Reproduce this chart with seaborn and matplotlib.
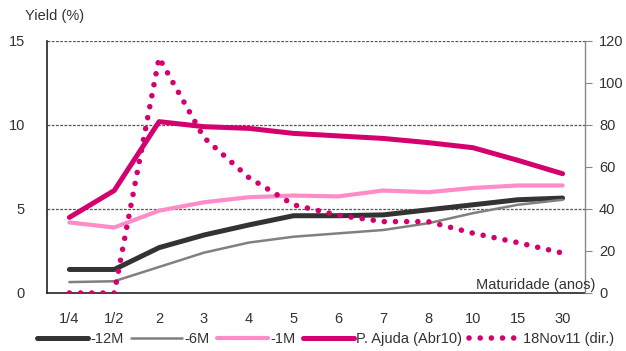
import matplotlib
matplotlib.use("Agg")
import matplotlib.pyplot as plt
import seaborn as sns
import pandas as pd
from matplotlib.lines import Line2D

# Maturities (years)
maturities = ["1/4", "1/2", "2", "3", "4", "5", "6", "7", "8", "10", "15", "30"]

# Yield curves (%), left axis
y_12m = [1.4, 1.4, 2.7, 3.45, 4.05, 4.6, 4.6, 4.65, 4.95, 5.25, 5.55, 5.65]
y_6m = [0.65, 0.7, 1.55, 2.4, 3.0, 3.35, 3.55, 3.75, 4.15, 4.75, 5.25, 5.55]
y_1m = [4.2, 3.9, 4.9, 5.4, 5.7, 5.8, 5.75, 6.1, 6.0, 6.25, 6.4, 6.4]
y_ajuda = [4.5, 6.1, 10.2, 9.9, 9.8, 9.5, 9.35, 9.2, 8.95, 8.65, 7.9, 7.1]

# 18 Nov 2011 curve (%), right axis
y_nov11 = [0, 0, 112, 74, 55, 42, 37, 34, 34, 28.5, 24, 19]

left_ticks = [0, 5, 10, 15]
right_ticks = [0, 20, 40, 60, 80, 100, 120]

MAGENTA = "#D4006E"
PINK = "#FF8CC8"
DARK = "#333333"
GREY = "#808080"
TXT = "#333333"
DOTS = (0.01, 2.0)
FS = 10.5

sns.set_theme(style="white")
plt.rcParams["font.family"] = ["Liberation Sans", "DejaVu Sans"]
plt.rcParams["font.size"] = FS

df = pd.DataFrame({
    "Maturidade": maturities,
    "-12M": y_12m,
    "-6M": y_6m,
    "-1M": y_1m,
    "P. Ajuda (Abr10)": y_ajuda,
    "18Nov11 (dir.)": y_nov11,
})

fig = plt.figure(figsize=(6.26, 3.51), dpi=100)
ax = fig.add_axes([47 / 626, 1 - 293 / 351, (585 - 47) / 626, (293 - 41) / 351])

# dashed horizontal reference lines
for v in [5, 10, 15]:
    ax.axhline(v, color="#555555", lw=0.9, ls=(0, (2.2, 1.2)), zorder=0)

sns.lineplot(data=df, x="Maturidade", y="-12M", ax=ax, color=DARK, lw=3.6, sort=False, zorder=3)
sns.lineplot(data=df, x="Maturidade", y="-6M", ax=ax, color=GREY, lw=1.8, sort=False, zorder=3)
sns.lineplot(data=df, x="Maturidade", y="-1M", ax=ax, color=PINK, lw=3.0, sort=False, zorder=3)
sns.lineplot(data=df, x="Maturidade", y="P. Ajuda (Abr10)", ax=ax, color=MAGENTA, lw=3.6, sort=False, zorder=4)

ax.set_xlim(-0.5, len(maturities) - 0.5)
ax.set_ylim(0, 15)
ax.set_yticks(left_ticks)
ax.set_xlabel("")
ax.set_ylabel("")
ax.tick_params(axis="y", length=0, pad=16, labelcolor=TXT, labelsize=FS)
ax.tick_params(axis="x", length=0, pad=14, labelcolor=TXT, labelsize=FS)
for s in ["top", "right"]:
    ax.spines[s].set_visible(False)
for s in ["left", "bottom"]:
    ax.spines[s].set_color("#222222")
    ax.spines[s].set_linewidth(1.2)

ax2 = ax.twinx()
sns.lineplot(data=df, x="Maturidade", y="18Nov11 (dir.)", ax=ax2, color=MAGENTA, lw=4.0, sort=False, zorder=5)
dot_line = ax2.get_lines()[-1]
dot_line.set_dashes(DOTS)
dot_line.set_dash_capstyle("round")
ax2.set_ylim(0, 120)
ax2.set_yticks(right_ticks)
ax2.set_ylabel("")
ax2.set_xlabel("")
for s in ["top", "left", "bottom"]:
    ax2.spines[s].set_visible(False)
ax2.spines["right"].set_color("#888888")
ax2.spines["right"].set_linewidth(1.0)
ax2.tick_params(axis="y", length=5, width=0.8, color="#888888", pad=5, labelcolor=TXT,
                direction="out", labelsize=FS)
ax2.grid(False)
ax.grid(False)

fig.text(25 / 626, 1 - 16 / 351, "Yield (%)", ha="left", va="center", color=TXT, fontsize=FS)
fig.text(476 / 626, 1 - 285 / 351, "Maturidade (anos)", ha="left", va="center", color=TXT, fontsize=FS)

handles = [
    Line2D([], [], color=DARK, lw=3.6),
    Line2D([], [], color=GREY, lw=1.8),
    Line2D([], [], color=PINK, lw=3.0),
    Line2D([], [], color=MAGENTA, lw=3.6),
    Line2D([], [], color=MAGENTA, lw=4.0, dashes=DOTS, dash_capstyle="round"),
]
labels = ["-12M", "-6M", "-1M", "P. Ajuda (Abr10)", "18Nov11 (dir.)"]
fig.legend(handles, labels, loc="center", bbox_to_anchor=(0.52, 1 - 339 / 351), ncol=5,
           frameon=False, handlelength=3.5, handletextpad=0.15, columnspacing=0.5,
           fontsize=FS, labelcolor=TXT, borderaxespad=0)

fig.savefig("out.png", dpi=100)
